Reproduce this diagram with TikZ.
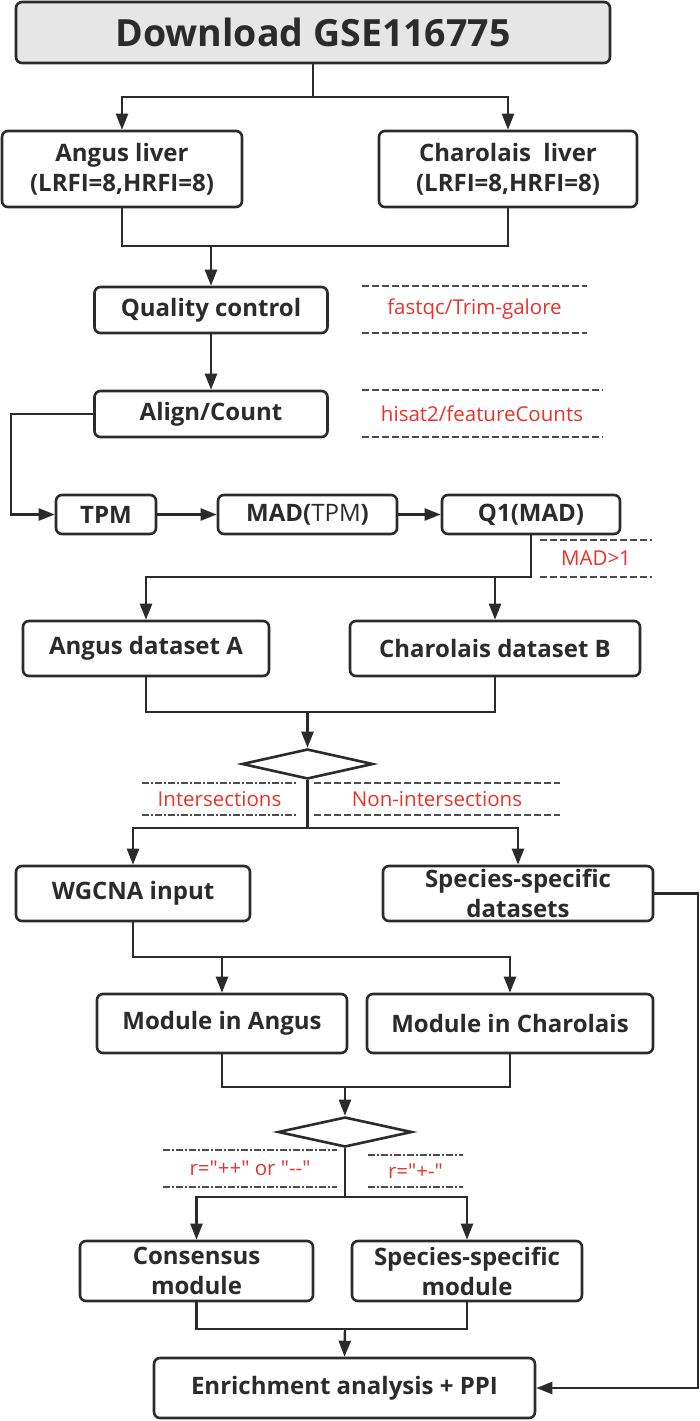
\documentclass[tikz,border=0pt]{standalone}
\usepackage{fontspec}
\setmainfont{Open Sans}
\newfontfamily\notefont{Open Sans}
\usetikzlibrary{arrows.meta,shapes.geometric}
\definecolor{linegray}{HTML}{2B2B2B}
\definecolor{notered}{HTML}{E8322C}
\definecolor{boxgray}{HTML}{E6E6E6}

\begin{document}
\begin{tikzpicture}[x=1pt,y=-1pt,
    box/.style={draw=linegray,line width=2.6pt,rounded corners=6pt,align=center,inner sep=0pt,
        text=linegray,font=\fontsize{24}{30}\selectfont\bfseries},
    decision/.style={draw=linegray,line width=2.6pt,diamond,inner sep=0pt},
    line/.style={draw=linegray,line width=2.4pt},
    arr/.style={line,-{Triangle[length=16pt,width=12pt]}},
    note/.style={inner sep=0pt,text=notered,font=\notefont\fontsize{20.5}{24}\selectfont},
    dashline/.style={draw=gray!60!black,line width=1.5pt,dash pattern=on 7pt off 3pt},
    dashdotline/.style={draw=gray!60!black,line width=1.5pt,dash pattern=on 7pt off 2pt on 2pt off 2pt}]
    \useasboundingbox (0,0) rectangle (700,1421);

    \node[box,fill=boxgray,minimum width=594pt,minimum height=61pt,font=\fontsize{37.5}{40}\selectfont\bfseries] (dl) at (313,32.5) {Download GSE116775};
	\node[box,minimum width=240pt,minimum height=76pt] (angus) at (122,169) {Angus liver\\(LRFI=8,HRFI=8)};
	\node[box,minimum width=258pt,minimum height=76pt] (charo) at (508,169) {Charolais\ \ liver\\(LRFI=8,HRFI=8)};
	\node[box,minimum width=233pt,minimum height=46pt] (qc) at (211,310) {Quality control};
	\node[box,minimum width=233pt,minimum height=46pt] (align) at (211,414) {Align/Count};
	\node[box,minimum width=100pt,minimum height=39pt] (tpm) at (106,514.5) {TPM};
	\node[box,minimum width=179pt,minimum height=39pt] (mad) at (307.5,514.5) {MAD(\textmd{TPM})};
	\node[box,minimum width=178pt,minimum height=39pt] (q1) at (531,514.5) {Q1(MAD)};
	\node[box,minimum width=246pt,minimum height=55pt] (setA) at (146,648.5) {Angus dataset A};
	\node[box,minimum width=290pt,minimum height=55pt] (setB) at (495,648.5) {Charolais dataset B};
	\node[decision,minimum width=131pt,minimum height=30pt] (dia1) at (307.5,764) {};
	\node[box,minimum width=234pt,minimum height=55pt] (wgcna) at (133,893.5) {WGCNA input};
	\node[box,minimum width=270pt,minimum height=55pt] (spec) at (518,893.5) {Species-specific\\datasets};
	\node[box,minimum width=250pt,minimum height=59pt] (modA) at (222,1023.5) {Module in Angus};
	\node[box,minimum width=286pt,minimum height=59pt] (modC) at (510,1023.5) {Module in Charolais};
	\node[decision,minimum width=134pt,minimum height=30pt] (dia2) at (345,1132) {};
	\node[box,minimum width=233pt,minimum height=60pt] (cons) at (196.5,1271) {Consensus\\module};
	\node[box,minimum width=230pt,minimum height=60pt] (specmod) at (467,1271) {Species-specific\\module};
	\node[box,minimum width=381pt,minimum height=60pt] (enr) at (344.5,1388) {Enrichment analysis + PPI};

	% tool notes
	\node[note,minimum width=225pt,minimum height=47pt] (nqc) at (474.5,309.5) {fastqc/Trim-galore};
	\node[note,minimum width=240pt,minimum height=47pt] (nalign) at (482,413.5) {hisat2/featureCounts};
	\node[note,minimum width=112pt,minimum height=37pt] (nmad) at (596,558.5) {MAD>1};
	\node[note,minimum width=155pt,minimum height=32pt] (nint) at (219.5,799) {Intersections};
	\node[note,minimum width=246pt,minimum height=32pt] (nnon) at (437,799) {Non-intersections};
	\node[note,minimum width=174pt,minimum height=37pt] (nr1) at (250,1168.5) {r="++" or "--"};
	\node[note,minimum width=95pt,minimum height=32pt] (nr2) at (415.5,1171) {r="+-"};
	\draw[dashline] (nqc.north west) -- (nqc.north east) (nqc.south west) -- (nqc.south east);
	\draw[dashline] (nalign.north west) -- (nalign.north east) (nalign.south west) -- (nalign.south east);
	\draw[dashline] (nmad.north west) -- (nmad.north east) (nmad.south west) -- (nmad.south east);
	\draw[dashdotline] (nint.north west) -- (nint.north east) (nint.south west) -- (nint.south east);
	\draw[dashline] (nnon.north west) -- (nnon.north east) (nnon.south west) -- (nnon.south east);
	\draw[dashdotline] (nr1.north west) -- (nr1.north east) (nr1.south west) -- (nr1.south east);
	\draw[dashdotline] (nr2.north west) -- (nr2.north east) (nr2.south west) -- (nr2.south east);

	\coordinate (j1) at (313,97);
	\coordinate (j2) at (211,246);
	\coordinate (c1) at (11,414);
	\coordinate (j3) at (495,577);
	\coordinate (j4) at (307.5,712);
	\coordinate (j5) at (307.5,828);
	\coordinate (c2) at (698,893.5);
	\coordinate (j6) at (222,957);
	\coordinate (j7) at (345,1087);
	\coordinate (j8) at (345,1197);
	\coordinate (j9) at (345,1329);

	\draw[line] (dl.south) -- (j1);
	\draw[arr] (j1) -| (angus.north);
	\draw[arr] (j1) -| (charo.north);
	\draw[line] (angus.south) |- (j2) -| (charo.south);
	\draw[arr] (j2) -- (qc.north);
	\draw[arr] (qc.south) -- (align.north);
	\draw[arr] (align.west) -- (c1) |- (tpm.west);
	\draw[arr] (tpm.east) -- (mad.west);
	\draw[arr] (mad.east) -- (q1.west);
	\draw[arr] (q1.south) |- (j3 -| setA.north) -- (setA.north);
	\draw[arr] (j3) -- (setB.north);
	\draw[line] (setA.south) |- (j4) -| (setB.south);
	\draw[arr] (j4) -- (dia1.north);
	\draw[line] (dia1.south) -- (j5);
	\draw[arr] (j5) -| (wgcna.north);
	\draw[arr] (j5) -| (spec.north);
	\draw[arr] (spec.east) -- (c2) |- (enr.east);
	\draw[arr] (wgcna.south) |- (j6) -| (modC.north);
	\draw[arr] (j6) -- (modA.north);
	\draw[line] (modA.south) |- (j7) -| (modC.south);
	\draw[arr] (j7) -- (dia2.north);
	\draw[line] (dia2.south) -- (j8);
	\draw[arr] (j8) -| (cons.north);
	\draw[arr] (j8) -| (specmod.north);
	\draw[line] (cons.south) |- (j9) -| (specmod.south);
	\draw[arr] (j9) -- (enr.north);
\end{tikzpicture}
\end{document}
